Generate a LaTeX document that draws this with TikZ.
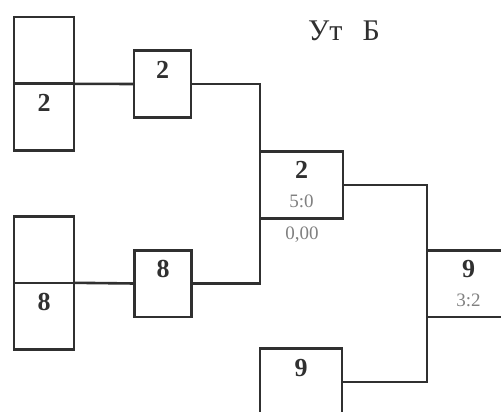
\documentclass[tikz,border=0pt]{standalone}
\usepackage{fontspec}
\setmainfont{Liberation Serif}
\usetikzlibrary{positioning}

\definecolor{ink}{HTML}{303030}
\definecolor{soft}{HTML}{808080}
\newcommand{\res}[1]{{\normalfont\fontsize{9.5}{11}\selectfont\color{soft}#1\vphantom{0}}}

\tikzset{
  box/.style={draw=ink, rectangle, line width=1.3pt, inner sep=0pt, outer sep=0pt,
    align=center, text=ink, font=\fontsize{13}{14.5}\selectfont\bfseries,
    minimum height=33.3pt},
  half/.style={box, minimum width=30pt},
  link/.style={draw=ink, line width=1.3pt}
}

\begin{document}
\begin{tikzpicture}[x=0.5pt, y=-0.5pt]
    \clip (0,0) rectangle (501,411);

    \node(title) [text=ink, font=\fontsize{15}{17}\selectfont] at (344, 31) {Ут\hspace{10pt}Б};

    % first round
    \node(1) [half] at (44, 50.5) {};
    \node(2) [half, below = 0pt of 1] {2\\\res{}};
    \node(3) [half] at (44, 249.5) {};
    \node(4) [half, below = 0pt of 3] {8\\\res{}};

    \node(5) [box, minimum width=28.5pt] at (162.5, 84) {2\\\res{}};
    \node(6) [box, minimum width=28.5pt] at (163, 283.5) {8\\\res{}};
    \draw[link] (2.north east) -- (5.west);
    \draw[link] (4.north east) -- (6.west);

    % second round
    \node(7) [box, minimum width=41.5pt] at (301.5, 185) {2\\\res{5:0}};
    \node(time) [] at (302, 235) {\res{0,00}};
    \node(8) [box, minimum width=41pt] at (301, 382) {9\\\res{}};
    \draw[link] (5.east) -| (7.north west);
    \draw[link] (6.east) -| (7.south west);

    % final
    \node(9) [box, minimum width=41.5pt] at (468.5, 283.5) {9\\\res{3:2}};
    \draw[link] (7.east) -| (9.north west);
    \draw[link] (8.east) -| (9.south west);
  \end{tikzpicture}
\end{document}
